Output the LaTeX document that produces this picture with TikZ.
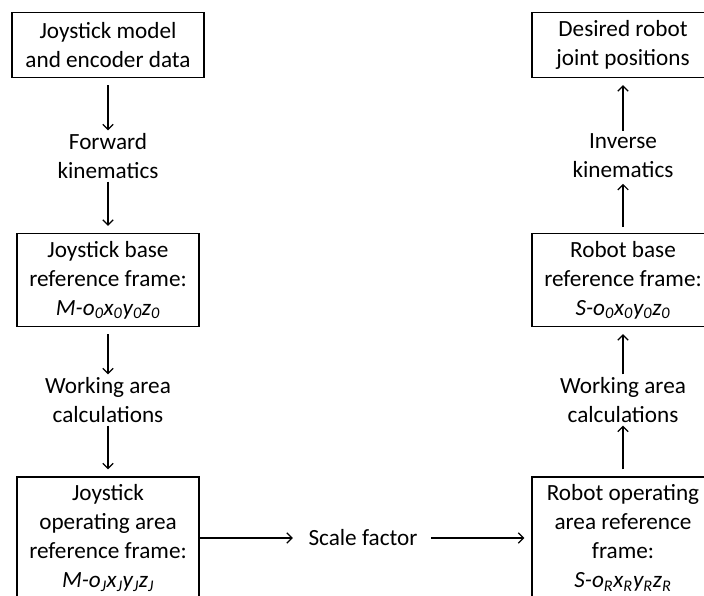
\documentclass[tikz,border=0pt]{standalone}
\usepackage{fontspec}
\setmainfont{Carlito}
\usetikzlibrary{arrows.meta, positioning}

\newcommand{\refframe}[2]{{\itshape #1-o\textsubscript{#2}x\textsubscript{#2}y\textsubscript{#2}z\textsubscript{#2}}}

\begin{document}
\begin{tikzpicture}[x=0.025cm, y=-0.025cm,
  box/.style={draw, line width=0.9pt, align=center, inner sep=0pt,
    minimum width=4.55cm, font=\fontsize{16.5}{20.6}\selectfont},
  lbl/.style={align=center, inner sep=1pt, font=\fontsize{16.5}{20.6}\selectfont},
  flow/.style={line width=0.8pt, -{Straight Barb[length=1.3mm, width=2.6mm]}}]
  \useasboundingbox (0,0) rectangle (704,596);
  \clip (0,0) rectangle (704,596);

  % Joystick side (left column)
  \node[box, minimum width=4.8cm, minimum height=1.625cm] (jmodel) at (108,45) {Joystick model\\and encoder data};
  \node[lbl] (fk) at (108,156) {Forward\\kinematics};
  \node[box, minimum height=2.325cm] (jbase) at (108,280) {Joystick base\\reference frame:\\\refframe{M}{0}};
  \node[lbl] (jwork) at (108,400) {Working area\\calculations};
  \node[box, minimum height=3.05cm] (jop) at (108,538) {Joystick\\operating area\\reference frame:\\\refframe{M}{J}};

  % Scale factor
  \node[lbl] (scale) at (363,538) {Scale factor};

  % Robot side (right column)
  \node[box, minimum height=3.05cm] (rop) at (623,538) {Robot operating\\area reference\\frame:\\\refframe{S}{R}};
  \node[lbl] (rwork) at (623,400) {Working area\\calculations};
  \node[box, minimum height=2.325cm] (rbase) at (623,280) {Robot base\\reference frame:\\\refframe{S}{0}};
  \node[lbl] (ik) at (623,156) {Inverse\\kinematics};
  \node[box, minimum height=1.625cm] (rjoint) at (623,45) {Desired robot\\joint positions};

  % Arrows down (joystick)
  \draw[flow, shorten <=5pt, shorten >=1pt] (jmodel) -- (fk);
  \draw[flow, shorten <=1pt, shorten >=5pt] (fk) -- (jbase);
  \draw[flow, shorten <=5pt, shorten >=1pt] (jbase) -- (jwork);
  \draw[flow, shorten <=1pt, shorten >=5pt] (jwork) -- (jop);

  % Arrows across
  \draw[flow, shorten >=10pt] (jop) -- (scale);
  \draw[flow, shorten <=8.5pt, shorten >=5pt] (scale) -- (rop);

  % Arrows up (robot)
  \draw[flow, shorten <=5pt, shorten >=1pt] (rop) -- (rwork);
  \draw[flow, shorten <=1pt, shorten >=5pt] (rwork) -- (rbase);
  \draw[flow, shorten <=4pt, shorten >=3pt] (rbase) -- (ik);
  \draw[flow, shorten <=1pt, shorten >=5pt] (ik) -- (rjoint);
\end{tikzpicture}
\end{document}
